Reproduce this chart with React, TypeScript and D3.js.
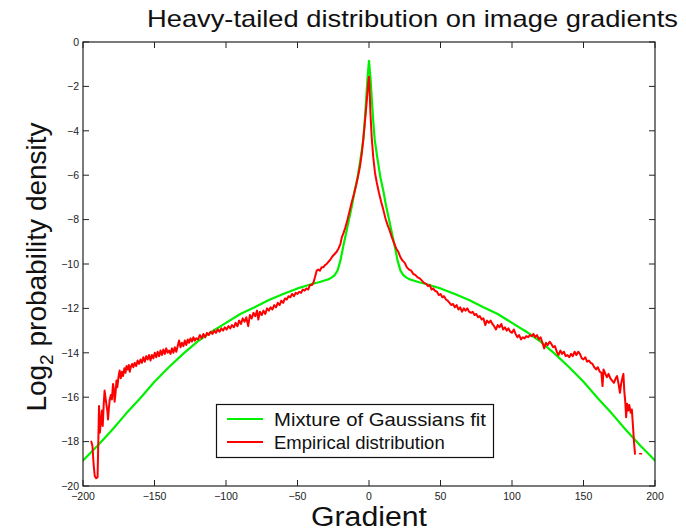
import React from "react";
import * as d3 from "d3";

const xTicks = [-200, -150, -100, -50, 0, 50, 100, 150, 200];
const yTicks = [0, -2, -4, -6, -8, -10, -12, -14, -16, -18, -20];

// Mixture of Gaussians fit (gradient, log2 density)
const fitGradient = [
  -200, -190, -180, -170, -160, -150, -140, -130, -120, -110, -100, -90, -80, -70, -60, -50, -45, -40, -35, -30, -28, -26, -24, -22, -20, -18, -16, -14, -12, -10, -8, -6, -4, -3, -2, -1, 0,
  1, 2, 3, 4, 6, 8, 10, 12, 14, 16, 18, 20, 22, 24, 26, 28, 30, 35, 40, 45, 50, 60, 70, 80, 90, 100, 110, 120, 130, 140, 150, 160, 170, 180, 190, 200,
];
const fitDensity = [
  -18.85, -18.2, -17.5, -16.75, -16.05, -15.3, -14.65, -14.05, -13.5, -13.05, -12.65, -12.25, -11.95, -11.62, -11.35, -11.1, -11.0, -10.9, -10.82, -10.72, -10.68, -10.6, -10.5, -10.3, -9.85, -9.2, -8.6, -8.0, -7.4, -6.7, -6.1, -5.3, -4.4, -3.6, -2.6, -1.6, -0.85,
  -1.6, -2.6, -3.6, -4.4, -5.3, -6.1, -6.7, -7.4, -8.0, -8.6, -9.2, -9.85, -10.3, -10.5, -10.6, -10.68, -10.72, -10.82, -10.9, -11.0, -11.1, -11.35, -11.62, -11.95, -12.25, -12.65, -13.05, -13.5, -14.05, -14.65, -15.3, -16.05, -16.75, -17.5, -18.2, -18.85,
];

// Empirical distribution (gradient, log2 density)
const empiricalGradient = [
  -194.2, -193.4, -192.6, -191.8, -190.8, -189.8, -189.3, -188.8, -188.2, -187.5, -186.8, -186.2, -185.5, -184.9, -184.3, -183.7, -183.0, -182.5, -181.9, -181.3, -180.5, -179.8, -179.0, -178.5, -177.9, -177.2, -176.6, -176.0, -175.2, -174.4, -173.6, -172.8, -172.0, -171.1, -170.3, -169.6, -168.8, -168.0, -167.3, -166.4, -165.6, -164.8, -163.8, -162.8, -161.8, -160.8, -159.8, -158.8, -157.8, -156.8, -155.8, -154.8, -153.8, -152.8, -151.8, -150.8, -149.8, -148.8, -147.8, -146.8, -145.8, -144.8, -143.8, -142.8, -141.8, -140.8, -139.8, -138.8, -137.8, -136.8, -135.8, -134.8, -133.8, -132.8, -131.8, -130.8, -129.8, -128.8, -127.8, -126.8, -125.8, -124.8, -123.8, -122.8, -121.8, -120.8, -119.5, -118.3, -117.0, -115.8, -114.5, -113.3, -112.0, -110.8, -109.5, -108.3, -107.0, -105.8, -104.5, -103.3, -102.0, -100.8, -99.5, -98.3, -97.0, -95.8, -94.5, -93.3, -92.0, -90.8, -89.5, -88.3, -87.0, -85.8, -84.5, -83.3, -82.0, -80.8, -79.5, -78.3, -77.4, -76.3, -75.0, -73.8, -72.5, -71.3, -70.0, -68.8, -67.5, -66.3, -65.0, -63.8, -62.5, -61.3, -60.0, -58.8, -57.5, -56.3, -55.0, -53.8, -52.5, -51.3, -50.0, -48.8, -47.5, -46.3, -45.0, -43.8, -42.5, -41.3, -40.0, -38.9, -37.8, -36.6, -35.5, -34.3, -33.1, -32.0, -30.8, -29.6, -28.4, -27.0, -25.5, -24.0, -22.6, -21.3, -20.0, -19.0, -17.8, -16.5, -15.0, -13.5, -12.0, -10.5, -9.0, -7.5, -6.3, -5.0, -4.0, -3.0, -2.3, -1.5, -1.0, -0.5, 0,
  0.5, 1.0, 1.9, 3.0, 4.2, 5.5, 7.0, 8.5, 10.0, 11.5, 13.0, 14.5, 16.0, 17.5, 19.0, 20.5, 22.0, 23.5, 25.0, 26.5, 28.0, 29.5, 31.0, 32.5, 34.0, 35.5, 37.0, 38.5, 40.0, 41.3, 42.5, 43.8, 45.0, 46.0, 47.5, 48.8, 50.0, 51.3, 52.5, 53.8, 55.0, 56.3, 57.6, 58.8, 60.0, 61.3, 62.5, 63.8, 65.0, 66.3, 67.5, 68.8, 70.0, 71.3, 72.5, 73.8, 75.0, 76.3, 77.5, 78.8, 80.0, 81.3, 82.5, 83.8, 85.0, 86.3, 87.5, 88.8, 90.0, 91.3, 92.5, 93.8, 95.0, 96.3, 97.5, 98.8, 100.0, 101.3, 102.5, 103.8, 105.0, 106.3, 107.5, 108.8, 110.0, 111.3, 112.5, 113.8, 115.0, 116.3, 117.5, 118.8, 120.0, 121.3, 122.5, 123.8, 125.0, 126.3, 127.5, 128.8, 130.0, 131.3, 132.5, 133.8, 135.0, 136.3, 137.5, 138.8, 140.0, 141.3, 142.5, 143.8, 145.0, 146.3, 147.5, 148.8, 150.0, 151.3, 152.5, 153.8, 155.0, 156.3, 157.5, 158.8, 160.0, 161.3, 162.5, 163.3, 164.0, 165.0, 166.3, 167.5, 168.8, 170.0, 171.3, 172.5, 173.5, 174.5, 175.5, 176.3, 177.3, 177.9, 178.5, 179.2, 179.8, 180.5, 181.3, 182.0, 183.0, 183.8, 184.6, 185.3, 186.0,
];
const empiricalDensity = [
  -18.0, -18.2, -19.0, -19.55, -19.65, -19.6, -18.0, -16.4, -17.6, -17.1, -16.6, -17.3, -16.3, -15.7, -16.0, -16.3, -16.6, -17.0, -16.5, -16.1, -15.9, -16.1, -15.4, -15.6, -16.2, -15.8, -15.25, -15.55, -15.1, -14.8, -15.15, -14.85, -15.05, -14.7, -14.9, -14.6, -14.75, -14.55, -14.85, -14.6, -14.5, -14.65, -14.45, -14.6, -14.35, -14.5, -14.3, -14.45, -14.2, -14.4, -14.15, -14.3, -14.1, -14.35, -14.1, -14.25, -14.0, -14.2, -13.95, -14.15, -13.9, -14.1, -13.85, -14.05, -13.8, -14.0, -13.9, -14.05, -13.8, -14.0, -13.75, -13.95, -13.7, -13.45, -13.75, -13.55, -13.7, -13.45, -13.65, -13.4, -13.55, -13.35, -13.5, -13.3, -13.45, -13.35, -13.4, -13.2, -13.35, -13.15, -13.3, -13.1, -13.2, -13.05, -13.15, -13.0, -13.1, -12.95, -13.05, -12.9, -13.0, -12.85, -12.95, -12.8, -12.9, -12.75, -12.85, -12.65, -12.8, -12.55, -12.7, -12.45, -12.6, -12.4, -12.8, -12.3, -12.45, -12.2, -12.35, -12.1, -12.5, -12.15, -12.3, -12.1, -12.25, -12.0, -12.1, -11.95, -12.05, -11.85, -11.95, -11.75, -11.85, -11.65, -11.75, -11.55, -11.6, -11.45, -11.5, -11.35, -11.45, -11.3, -11.35, -11.25, -11.3, -11.15, -11.2, -11.1, -11.15, -10.95, -10.95, -10.85, -10.6, -10.3, -10.25, -10.3, -10.15, -10.15, -10.05, -10.0, -9.9, -9.8, -9.65, -9.55, -9.45, -9.3, -9.1, -8.8, -8.6, -8.35, -8.0, -7.6, -7.2, -6.85, -6.45, -6.0, -5.6, -5.0, -4.4, -3.7, -3.2, -2.6, -2.2, -1.8, -1.56,
  -2.3, -3.2, -4.3, -5.2, -5.9, -6.35, -6.8, -7.2, -7.55, -7.95, -8.25, -8.5, -8.8, -9.05, -9.3, -9.45, -9.7, -9.85, -9.95, -10.15, -10.25, -10.3, -10.45, -10.5, -10.6, -10.65, -10.75, -10.85, -10.9, -11.0, -10.95, -11.15, -11.1, -11.2, -11.25, -11.4, -11.35, -11.5, -11.45, -11.6, -11.65, -11.75, -11.85, -11.8, -11.95, -11.85, -12.05, -11.95, -12.15, -12.0, -12.1, -12.0, -12.15, -12.2, -12.15, -12.3, -12.25, -12.4, -12.35, -12.5, -12.45, -12.75, -12.55, -12.65, -12.55, -12.7, -12.8, -12.95, -12.75, -12.85, -12.7, -12.95, -12.85, -13.0, -12.9, -13.05, -13.1, -12.95, -13.15, -13.3, -13.2, -13.4, -13.3, -13.35, -13.25, -13.3, -13.2, -13.25, -13.15, -13.3, -13.2, -13.4, -13.3, -13.55, -13.8, -13.55, -13.65, -13.5, -13.6, -13.75, -13.7, -13.95, -14.1, -13.9, -14.05, -13.95, -14.15, -14.1, -14.2, -14.05, -14.15, -13.95, -14.1, -13.95, -14.05, -14.25, -14.3, -14.2, -14.4, -14.35, -14.45, -14.5, -14.65, -14.75, -14.65, -14.85, -14.9, -15.5, -14.75, -14.9, -15.1, -14.95, -15.15, -15.25, -15.35, -15.15, -15.05, -15.4, -15.8, -15.4, -15.1, -14.95, -15.7, -16.2, -16.9, -16.3, -16.6, -16.35, -16.7, -16.55, -17.3, -18.0, -18.55,
];

// small detached piece of the empirical curve at the far right
const tailGradient = [189.3, 190.6];
const tailDensity = [-18.55, -18.55];

const W = 686;
const H = 532;
const left = 83, right = 655, top = 42, bottom = 486;

export default function App() {
  const x = d3.scaleLinear().domain([-200, 200]).range([left, right]);
  const y = d3.scaleLinear().domain([-20, 0]).range([bottom, top]);
  const line = d3
    .line<[number, number]>()
    .x((d) => x(d[0]))
    .y((d) => y(d[1]));

  const fitPts = fitGradient.map((g, i) => [g, fitDensity[i]] as [number, number]);
  const empPts = empiricalGradient.map((g, i) => [g, empiricalDensity[i]] as [number, number]);
  const tailPts = tailGradient.map((g, i) => [g, tailDensity[i]] as [number, number]);

  const font = "'Liberation Sans', Arial, Helvetica, sans-serif";
  const tickLen = 6;
  const axisColor = "#222";

  return (
    <svg
      width={W}
      height={H}
      viewBox={`0 0 ${W} ${H}`}
      style={{ position: "absolute", left: 0, top: 0, background: "#fff" }}
      fontFamily={font}
    >
      <rect x={0} y={0} width={W} height={H} fill="#fff" />
      <text x={147} y={27} fontSize={24} fill="#111" textLength={531} lengthAdjust="spacingAndGlyphs">
        Heavy-tailed distribution on image gradients
      </text>

      <defs>
        <clipPath id="plotclip">
          <rect x={left} y={top} width={right - left} height={bottom - top} />
        </clipPath>
      </defs>

      <g clipPath="url(#plotclip)" fill="none" strokeLinejoin="round" strokeLinecap="round">
        <path d={line(fitPts) || ""} stroke="#00f000" strokeWidth={2.2} />
        <path d={line(empPts) || ""} stroke="#ff0000" strokeWidth={2} />
        <path d={line(tailPts) || ""} stroke="#ff0000" strokeWidth={1.6} />
      </g>

      {/* axes box */}
      <rect x={left} y={top} width={right - left} height={bottom - top} fill="none" stroke={axisColor} strokeWidth={1.2} />

      {xTicks.map((t) => (
        <g key={"x" + t}>
          <line x1={x(t)} x2={x(t)} y1={bottom} y2={bottom - tickLen} stroke={axisColor} />
          <line x1={x(t)} x2={x(t)} y1={top} y2={top + tickLen} stroke={axisColor} />
          <text x={x(t)} y={500} fontSize={10.5} textAnchor="middle" fill="#222">
            {t < 0 ? "\u2212" + Math.abs(t) : String(t)}
          </text>
        </g>
      ))}
      {yTicks.map((t) => (
        <g key={"y" + t}>
          <line x1={left} x2={left + tickLen} y1={y(t)} y2={y(t)} stroke={axisColor} />
          <line x1={right} x2={right - tickLen} y1={y(t)} y2={y(t)} stroke={axisColor} />
          <text x={79} y={y(t) + 3.8} fontSize={10.5} textAnchor="end" fill="#222">
            {t < 0 ? "\u2212" + Math.abs(t) : String(t)}
          </text>
        </g>
      ))}

      <text x={369} y={526} fontSize={27} textAnchor="middle" fill="#111" textLength={116} lengthAdjust="spacingAndGlyphs">
        Gradient
      </text>

      <text transform="translate(46,267) rotate(-90)" fontSize={28} textAnchor="middle" fill="#111">
        Log<tspan fontSize={19} dy={7}>2</tspan>
        <tspan dy={-7}> probability density</tspan>
      </text>

      {/* legend */}
      <rect x={216.5} y={404.5} width={277} height={53} fill="#fff" stroke="#111" strokeWidth={1.2} />
      <line x1={227} x2={263} y1={419} y2={419} stroke="#00f000" strokeWidth={2.2} />
      <line x1={227} x2={263} y1={442} y2={442} stroke="#ff0000" strokeWidth={2.2} />
      <text x={274} y={426} fontSize={18.5} fill="#111" textLength={212} lengthAdjust="spacingAndGlyphs">
        Mixture of Gaussians fit
      </text>
      <text x={274} y={449} fontSize={18.5} fill="#111">
        Empirical distribution
      </text>
    </svg>
  );
}
